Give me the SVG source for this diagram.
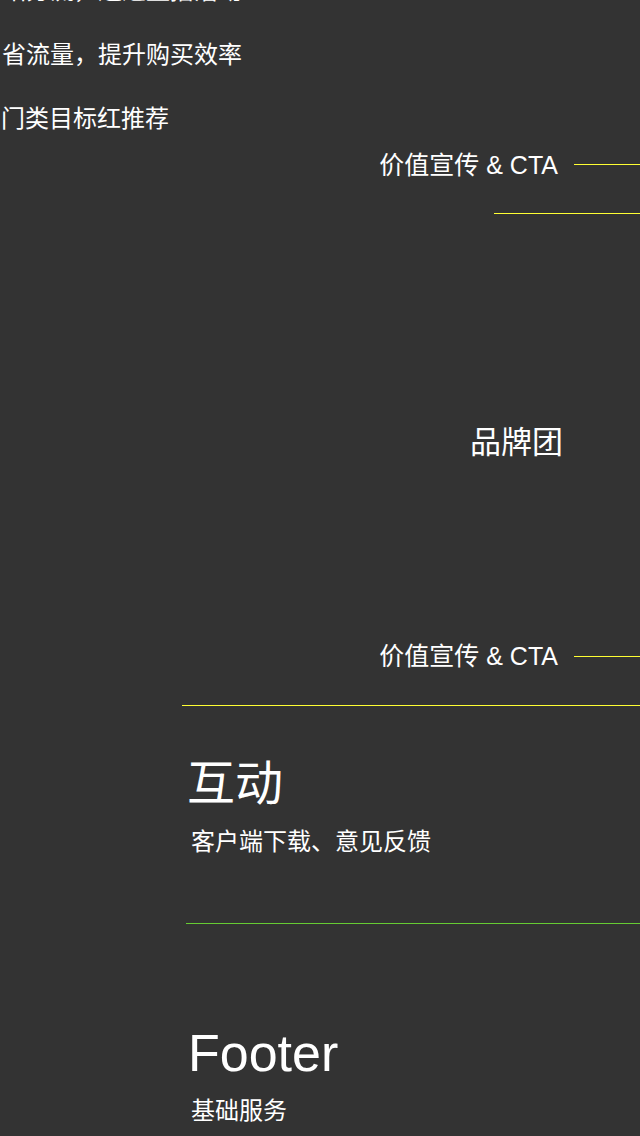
<svg xmlns="http://www.w3.org/2000/svg" width="640" height="1136" viewBox="0 0 640 1136">
<style>
.t{font-family:"Liberation Sans","Noto Sans CJK SC",sans-serif;fill:#ffffff}
.s{font-size:24px}
.c{font-size:25px}
.y{stroke:#ffff33;stroke-width:1;fill:none}
.g{stroke:#66cc33;stroke-width:1;fill:none}
</style>
<rect width="640" height="1136" fill="#333333"/>
<g id="intro">
<text class="t s" x="2" y="-1">站分流，通过直播活动</text>
<text class="t s" x="2" y="63">省流量，提升购买效率</text>
<text class="t s" x="1" y="127">门类目标红推荐</text>
</g>
<g id="cta1"><text class="t c" x="558" y="174" text-anchor="end">价值宣传 &amp; CTA</text></g>
<g id="brand"><text class="t" x="470" y="453" font-size="31">品牌团</text></g>
<g id="cta2"><text class="t c" x="558" y="665" text-anchor="end">价值宣传 &amp; CTA</text></g>
<g id="interact">
<text class="t" x="187" y="800" font-size="48">互动</text>
<text class="t s" x="191" y="850">客户端下载、意见反馈</text>
</g>
<g id="footer">
<text class="t" x="188" y="1071" font-size="52">Footer</text>
<text class="t s" x="191" y="1119">基础服务</text>
</g>
<g id="connectors">
<line class="y" x1="574" y1="164.5" x2="640" y2="164.5"/>
<line class="y" x1="494" y1="213.5" x2="640" y2="213.5"/>
<line class="y" x1="574" y1="656.5" x2="640" y2="656.5"/>
<line class="y" x1="182" y1="705.5" x2="640" y2="705.5"/>
<line class="g" x1="186" y1="923.5" x2="640" y2="923.5"/>
</g>
</svg>
